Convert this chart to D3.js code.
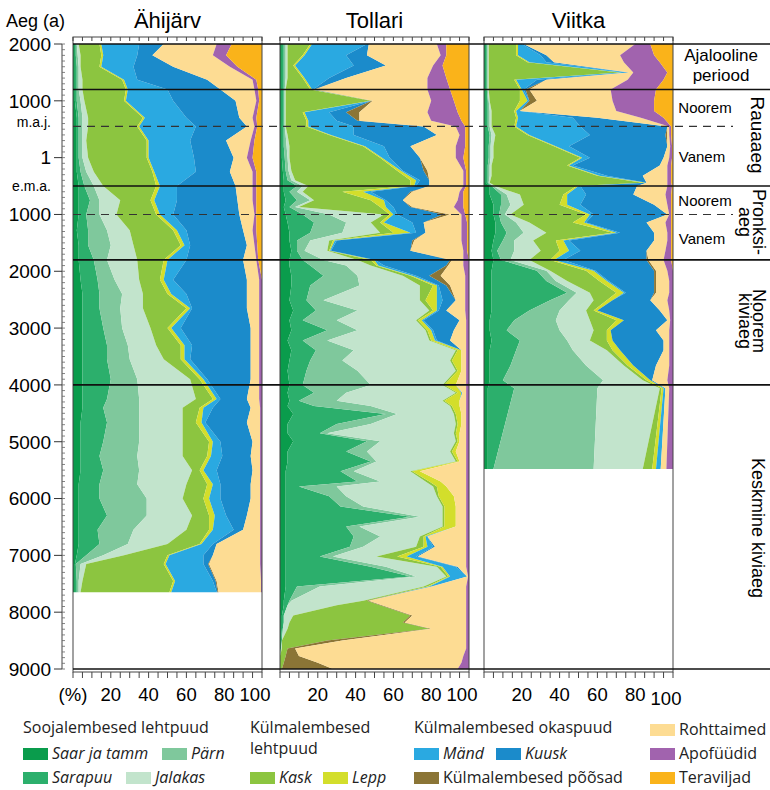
<!DOCTYPE html>
<html>
<head>
<meta charset="utf-8">
<script src="https://cdn.jsdelivr.net/npm/d3@7"></script>
<style>
  body { margin: 0; background: #fff; }
  svg { display: block; }
</style>
</head>
<body>
<svg width="770" height="790"></svg>
<script>
// taxa in stacking order (left to right)
const taxa = ["Saar ja tamm", "Sarapuu", "Pärn", "Jalakas", "Kask", "Lepp",
              "Mänd", "Kuusk", "Külmalembesed põõsad", "Rohttaimed", "Apofüüdid", "Teraviljad"];
const taxaColors = ["#0a9c4c", "#2caf6c", "#7fc89c", "#c2e4cc", "#8cc540", "#d3de2b",
                    "#2aa9e1", "#1b8bcb", "#8b7536", "#fddc93", "#a163ae", "#fab31a"];

const siteNames = ["Ähijärv", "Tollari", "Viitka"];

// rows: [year (AD +, BC -), 12 taxa in %]
const ahijarv = [
  [2000, 1, .5, .5, 1, 11, 1, 20, 13, 0, 28, 8, 16],
  [1800, 1, .5, 1, 1.5, 11, 1, 18, 8, 0, 32, 7, 19],
  [1600, 1, 1, 1, 1, 10, 1, 17, 21, 0, 30, 4, 13],
  [1370, 1, 1, 1, 2, 21, 1, 7, 37, 0, 24, 2, 3],
  [1200, 1, 1, 1, 2, 23, 1, 21, 28, 0, 18, 2, 2],
  [1000, 1, 1, 2, 2, 21, 1, 25, 33, 0, 11, 1.5, 1.5],
  [700, 2, 1, 2, 3, 29, 1, 22, 28, 0, 7, 2, 3],
  [550, 2, 1, 2, 3, 26, 1, 30, 27, 0, 4, 1.5, 2.5],
  [300, 2, 1, 2, 2, 32, 1, 22, 19, 0, 13, 2, 4],
  [0, 2, 1, 2, 3, 31, 1, 24, 21, 0, 7, 3, 5],
  [-250, 2, 2, 3, 4, 31, 1, 22, 18, 0, 12, 2, 3],
  [-500, 3, 3, 5, 5, 28, 2, 9, 31, 0, 9, 2, 3],
  [-750, 3, 6, 5, 11, 16, 2, 12, 32, 0, 8, 2, 3],
  [-1000, 3, 4, 7, 9, 21, 2, 7, 35, 0, 8, 1, 3],
  [-1280, 2, 6, 10, 12, 23, 2, 5, 30, 0, 5, 2, 3],
  [-1540, 3, 5, 12, 12, 25, 2, 3, 30, 0, 4, 1.5, 2.5],
  [-1800, 3, 8, 7, 16, 14, 2, 10, 30, 0, 7, 1, 2],
  [-2150, 4, 9, 9, 13, 11, 2, 5, 39, 0, 6.5, 1.5, 0],
  [-2400, 5, 9, 12, 11, 13, 2, 8, 32, 0, 6.5, 1.5, 0],
  [-2650, 5, 9, 11, 12, 23, 2, 1, 29, 0, 6.5, 1.5, 0],
  [-3000, 5, 11, 10, 15, 9, 2, 5, 37, 0, 4.5, 1.5, 0],
  [-3300, 5, 13, 11, 15, 13, 2, 4, 31, 0, 4.5, 1.5, 0],
  [-3550, 5, 13, 12, 18, 9, 2, 3, 32, 0, 4.5, 1.5, 0],
  [-3900, 5, 15, 14, 28, 5, 2, 2, 23, 0, 4.5, 1.5, 0],
  [-4250, 5, 13, 17, 30, 9, 2, 2, 14, 0, 6.5, 1.5, 0],
  [-4400, 5, 11, 19, 23, 9, 2, 5, 20, 0, 5, 1, 0],
  [-4660, 4, 14, 17, 23, 7, 3, 2, 22, 0, 7, 1, 0],
  [-5000, 4, 12, 19, 23, 14, 2, 4, 17, 0, 4, 1, 0],
  [-5250, 4, 10, 20, 24, 13, 2, 6, 15, 0, 5, 1, 0],
  [-5500, 4, 12, 19, 28, 4, 2, 7, 19, 0, 4, 1, 0],
  [-5750, 3, 11, 20, 26, 11, 3, 4, 16, 0, 5, 1, 0],
  [-6000, 3, 11, 25, 19, 11, 3, 6, 16, 0, 5, 1, 0],
  [-6300, 3, 15, 21, 24, 9, 3, 6, 11, 0, 7, 1, 0],
  [-6550, 3, 10, 19, 28, 12, 2, 11, 5, 0, 9, 1, 0],
  [-6800, 3, 11, 15, 21, 17, 1, 6, 2, 0, 23, 1, 0],
  [-7000, 2, 5, 9, 11, 23, 1, 18, 5, 0, 25, 1, 0],
  [-7150, 1, .5, 2.5, 3, 41, 1, 20, 2.5, .5, 27, 1, 0],
  [-7450, 1, 1, 1, 2, 48, 1, 20, 1.5, .5, 23.5, .5, 0],
  [-7650, 1, 1, 1, 1, 47, 1, 24, .5, .5, 22.5, .5, 0]
];

const tollari = [
  [2000, 1, 1, 1, 1, 12, 1, 29, 1, 0, 36, 5, 12],
  [1800, 1, 1, 1, 1, 8, 1, 22, 11, 0, 39, 3, 12],
  [1620, 1, 1, 1, 1, 3, 1, 31, 17, 0, 25, 5, 14],
  [1400, 1, 1, 1, 1, 8, 1, 13, 9, 0, 43, 10, 12],
  [1200, 1, 1, .5, .5, 13, 1, .5, .5, .5, 59.5, 12, 10],
  [1000, 1, 1, .5, .5, 45, .5, 0, 0, .5, 31, 12, 8],
  [800, 1, 1, .5, .5, 9, 1, 13, 9, 7, 36, 16, 6],
  [650, 1, 1, .5, .5, 11, 1, 15, 11, 1, 38, 16, 4],
  [550, 1, 1, .5, .5, 11, 1, 24, 37, 0, 17, 5, 2],
  [400, 1, 1, 1, 1, 22, 1, 12, 44, 0, 12, 3, 2],
  [200, 1, 1, 1.5, 1.5, 39, 1, 10, 14, 0, 24, 5, 2],
  [0, 1, 1.5, 1.5, 1, 48, 1, 4, 16, 0, 19, 4, 3],
  [-230, 1.5, 1.5, 1.5, 1.5, 56, 2, 1, 11, 2, 19, 1.5, 1.5],
  [-400, 2, 2, 2, 2, 61, 3, 2, 5, 0, 18, 1.5, 1.5],
  [-500, 2, 7, 3, 3, 54, 2, 1, 7, 0, 18, 1.5, 1.5],
  [-600, 2, 3, 4, 3, 21, 11, 4, 21, 1, 25, 2, 3],
  [-750, 3, 6, 7, 2, 30, 7, 1, 9, 0, 29, 3, 3],
  [-870, 2, 3, 3, 2, 43, 3, 4, 9, 1, 22, 5, 3],
  [-1000, 3, 9, 14, 29, 3, 2, 2, 24, 4, 6, 2, 2],
  [-1140, 4, 14, 17, 13, 5, 2, 15, 6, 0, 20, 3, 1],
  [-1320, 5, 11, 17, 20, 7, 9, 3, 5, 0, 19, 3, 1],
  [-1460, 5, 4, 7, 10, 2, 1, 1, 40, 1, 25, 3, 1],
  [-1640, 6, 3, 4, 12, 1, .5, .5, 42, 0, 28, 2, 1],
  [-1800, 5, 7, 11, 18, 7, 2, .5, 39.5, 1, 6, 3, 0],
  [-1900, 5, 11, 19, 13, 3, 1, 3, 33, 1, 8, 3, 0],
  [-2080, 6, 17, 18, 24, 4, 1, 2, 7, 6, 13, 2, 0],
  [-2250, 6, 10, 26, 32, 7, 2, 1, 4, 2, 8, 2, 0],
  [-2510, 5, 9, 9, 51, 3, 6, 3, 7, 0, 5, 2, 0],
  [-2690, 7, 12, 22, 38, 2, 2, 1, 4, 0, 10, 2, 0],
  [-2860, 5, 7, 18, 42, 1, 2, 1, 19, 0, 3.5, 1.5, 0],
  [-3040, 6, 19, 16, 36, 1, 2, 1, 11, 0, 6.5, 1.5, 0],
  [-3220, 4, 8, 13, 54, 1, 2, 1, 7, 0, 8.5, 1.5, 0],
  [-3390, 6, 13, 20, 54, 1, 2, 0, 0, 0, 2.5, 1.5, 0],
  [-3570, 5, 11, 17, 57, 1, 5, 0, 0, 0, 2.5, 1.5, 0],
  [-3750, 4, 10, 27, 52, 1, 2, 0, 0, 0, 2.5, 1.5, 0],
  [-4000, 5, 7, 36, 38, 1, 6, 0, 0, 0, 5.5, 1.5, 0],
  [-4140, 4, 14, 17, 58, 1, 2, .5, 0, 0, 2, 1.5, 0],
  [-4280, 5, 5, 20, 56, 1, 8, 0, 0, 0, 3.5, 1.5, 0],
  [-4370, 4, 14, 30, 42, 1, 4, 0, 0, 0, 3.5, 1.5, 0],
  [-4510, 7, 49, 6, 30, 1, 3, 0, 0, 0, 2.5, 1.5, 0],
  [-4690, 4, 26, 18, 45, 1, 2, 0, 0, 0, 2.5, 1.5, 0],
  [-4850, 4, 17, 4, 67, 1, 2, 0, 0, 0, 3.5, 1.5, 0],
  [-4990, 7, 39, 7, 40, 1, 1, 0, 0, 0, 3.5, 1.5, 0],
  [-5170, 4, 31, 11, 44, 1, 2, 0, 0, 0, 5.5, 1.5, 0],
  [-5350, 4, 44, 3, 42, 1, 1, 0, 0, 0, 3.5, 1.5, 0],
  [-5520, 3, 29, 7, 30, 1, 4, 0, 0, 0, 24.5, 1.5, 0],
  [-5700, 3, 38, 12, 24, 2, 6, 0, 0, 0, 13.5, 1.5, 0],
  [-5790, 3, 7, 20, 51, 2, 5, 0, 0, 0, 10.5, 1.5, 0],
  [-5960, 3, 23, 9, 48, 1, 8, 0, 0, 0, 6.5, 1.5, 0],
  [-6140, 3, 29, 12, 42, 1, 6, 0, 0, 0, 5.5, 1.5, 0],
  [-6320, 3, 66, 5, 12, 1, 6, 0, 0, 0, 5.5, 1.5, 0],
  [-6490, 3, 32, 7, 44, 1, 6, 0, 0, 0, 5.5, 1.5, 0],
  [-6670, 3, 36, 14, 21, 2, 1, 1, 0, 0, 20.5, 1.5, 0],
  [-6850, 3, 34, 7, 28, 4, 2, 3, 1, 0, 16.5, 1.5, 0],
  [-7020, 3, 18, 7, 23, 11, 5, 5, 1, 0, 25.5, 1.5, 0],
  [-7200, 3, 45, 8, 27, 2, 1, 7, 1, 0, 4.5, 1.5, 0],
  [-7370, 3, 66, 3, 16, 1, 1, 9, 0, 0, .5, .5, 0],
  [-7550, 3, 6, 12, 55, 2, 1, 1, .5, 0, 18, 1.5, 0],
  [-7800, 2, 3, 1, 38, 2, 0, 0, 0, 1, 51.5, 1.5, 0],
  [-7880, 2, 2, 0, 26, 23, 0, 0, 0, 1, 44.5, 1.5, 0],
  [-8060, 1, 1, 0, 5, 62, 0, 0, 0, 1, 28.5, 1.5, 0],
  [-8180, 1, 1, 0, 3, 60, 0, 0, 0, 1, 32.5, 1.5, 0],
  [-8290, 1, .5, 0, 2.5, 75, 0, 0, 0, 1, 18.5, 1.5, 0],
  [-8500, .5, .5, 0, 0, 24, 0, 0, 0, 8, 65.5, 1.5, 0],
  [-8640, .5, 0, 0, .5, 3, 0, 0, 0, 4, 90.5, 1.5, 0],
  [-8770, 0, 0, 0, 0, 3, 0, 0, 0, 7, 87, 3, 0],
  [-8890, 0, 0, 0, 0, 2, 0, 0, 0, 18, 76, 4, 0],
  [-9000, 0, 0, 0, 0, 1, 0, 0, 0, 27, 66, 6, 0]
];

const viitka = [
  [2000, 1, .5, .5, .5, 14.5, 1, 2, 1, 0, 59, 8, 12],
  [1800, 1, .5, .5, .5, 14.5, 1, 12, 3, 0, 39, 18, 10],
  [1680, 1, .5, .5, .5, 20.5, 1, 9, 4, 0, 37, 19, 7],
  [1500, 1, .5, .5, .5, 69.5, 1, 3, 1, 0, 2, 18, 3],
  [1370, 1, .5, .5, .5, 13.5, 1, 11, 5, 0, 43, 19, 5],
  [1200, 1, .5, .5, .5, 16.5, 1, 1, 1, 2, 43, 24, 9],
  [1000, 1, 1, .5, .5, 16, 4, 1, 0, 4, 40, 22, 10],
  [820, 1, 1, 1, 1, 12, 1, 2, 0, 0, 51, 20, 10],
  [700, 1, 1, 1, 1, 13, 1, 29, 13, 0, 23, 12, 5],
  [550, 1, 1, 1, 1, 12, 1, 34, 46, 0, 1, 1, 1],
  [400, 1, 2, 1, 2, 17, 1, 32, 40, 1, 1, 1, 1],
  [200, 1, 1.5, 1, 1.5, 32, 1, 7, 52, 0, 1.5, 1, .5],
  [0, 1, 1.5, 1, 1.5, 46, 1, 4, 39, 0, 3, 1.5, .5],
  [-140, 1, 1, 1, 1, 40, 1, 2, 46, 0, 4, 2, 1],
  [-320, 1, 1, 1, 1, 56, 1, 4, 19, 0, 13, 2, 1],
  [-440, 1, 1, .5, .5, 81, 2, 0, 0, 0, 11, 2, 1],
  [-500, 3, 1, 1, 1, 43, 1, 1, 30, 0, 16, 2.5, .5],
  [-650, 3, 6, 3, 7, 23, 2, 10, 25, 0, 17, 3, 1],
  [-830, 5, 4, 5, 7, 19, 4, 7, 39, 0, 7, 2, 1],
  [-1000, 5, 3, 3, 3, 40, 2, 2, 39, 0, 1, 1, 1],
  [-1140, 6, 3, 8, 7, 23, 6, 1, 32, 0, 10, 3, 1],
  [-1320, 6, 6, 9, 12, 35, 2, 2, 18, 0, 7, 2, 1],
  [-1460, 5, 5, 6, 10, 12, 4, 3, 45, 0, 7, 2, 1],
  [-1640, 4, 3, 9, 14, 10, 5, 6, 35, 0, 10, 3, 1],
  [-1800, 5, 4, 5, 10, 11, 2, 5, 44, 1, 8, 4, 1],
  [-1990, 4, 24, 5, 2, 19, 4, 1, 31, 1, 6, 3, 0],
  [-2170, 4, 29, 5, 6, 17, 4, 1, 24, 1, 7, 2, 0],
  [-2380, 4, 40, 5, 7, 14, 4, 1, 15, 1, 7, 2, 0],
  [-2510, 4, 31, 10, 13, 7, 3, 0, 20, 0, 9, 3, 0],
  [-2690, 4, 20, 16, 14, 4, 2, 0, 33, 0, 5, 2, 0],
  [-2860, 3, 13, 22, 18, 14, 4, 0, 23, 0, 1.5, 1.5, 0],
  [-3040, 3, 9, 28, 18, 7, 2, 0, 24, 0, 7, 2, 0],
  [-3220, 4, 15, 25, 12, 9, 3, 0, 27, 0, 3, 2, 0],
  [-3390, 3, 14, 30, 18, 3, 4, 0, 23, 0, 3, 2, 0],
  [-3660, 3, 11, 40, 20, 2, 3, 0, 12, 0, 7, 2, 0],
  [-3920, 3, 7, 53, 21, 2, 2, 0, 1, 0, 8, 3, 0],
  [-4060, 2, 14, 44, 33, 1, 1, 1, 0, 0, 2, 2, 0],
  [-5480, 2, 3, 53, 26, 5, 2, 2.5, 0, 0, 3, 3.5, 0]
];

// age axis ticks
const ageTicks = [2000, 1000, 0, -1000, -2000, -3000, -4000, -5000, -6000, -7000, -8000, -9000];
const ageTickLabels = ["2000", "1000", "1", "1000", "2000", "3000", "4000", "5000", "6000", "7000", "8000", "9000"];
const eraLabels = [{ text: "m.a.j.", year: 620 }, { text: "e.m.a.", year: -500 }];

// period boundaries
const periodLines = [2000, 1200, -500, -1800, -4000, -9000];
const subPeriodLines = [550, -1000];

const pctTicks = [20, 40, 60, 80, 100];

const svg = d3.select("svg");
const font = "'Liberation Sans', Arial, sans-serif";
const legendFont = "'Open Sans', 'Noto Sans', sans-serif";

const y = d3.scaleLinear().domain([2000, -9000]).range([44, 669]);
const panelLeft = [73, 280, 484];
const panelW = 189;
const frameTop = 37, frameBottom = 672;

const stack = d3.stack()
  .keys(d3.range(taxa.length))
  .value((d, k) => d[k + 1]);

[ahijarv, tollari, viitka].forEach((rows, i) => {
  const x = d3.scaleLinear().domain([0, 100]).range([panelLeft[i], panelLeft[i] + panelW]);
  const g = svg.append("g");

  const area = d3.area()
    .y(d => y(d.data[0]))
    .x0(d => x(d[0]))
    .x1(d => x(d[1]));

  g.selectAll("path.layer")
    .data(stack(rows))
    .enter()
    .append("path")
    .attr("class", "layer")
    .attr("d", area)
    .attr("fill", (d, k) => taxaColors[k]);

  // frame
  g.append("rect")
    .attr("x", x(0)).attr("y", frameTop)
    .attr("width", panelW).attr("height", frameBottom - frameTop)
    .attr("fill", "none").attr("stroke", "#444").attr("stroke-width", 1);

  // ticks every 5 % on top and bottom
  const minor = d3.range(0, 101, 5);
  g.selectAll("line.ttop").data(minor).enter().append("line")
    .attr("x1", d => x(d)).attr("x2", d => x(d))
    .attr("y1", frameTop).attr("y2", frameTop + 4)
    .attr("stroke", "#444").attr("stroke-width", 1);
  g.selectAll("line.tbot").data(minor).enter().append("line")
    .attr("x1", d => x(d)).attr("x2", d => x(d))
    .attr("y1", frameBottom).attr("y2", frameBottom + 6)
    .attr("stroke", "#444").attr("stroke-width", 1);

  // bottom labels
  g.selectAll("text.pct").data(pctTicks).enter().append("text")
    .attr("x", d => x(d) - (d === 100 ? 7 : 0))
    .attr("y", d => (d === 100 && i === 2) ? 705 : 701)
    .attr("text-anchor", "middle")
    .attr("font-family", font).attr("font-size", 18.5)
    .text(d => d);
  if (i === 0) {
    g.append("text").attr("x", x(0)).attr("y", 701)
      .attr("text-anchor", "middle")
      .attr("font-family", font).attr("font-size", 18.5)
      .text("(%)");
  }

  // title
  g.append("text")
    .attr("x", x(50)).attr("y", 28)
    .attr("text-anchor", "middle")
    .attr("font-family", font).attr("font-size", 22)
    .text(siteNames[i]);
});

// period lines
svg.selectAll("line.period").data(periodLines).enter().append("line")
  .attr("x1", 73).attr("x2", 770)
  .attr("y1", d => y(d)).attr("y2", d => y(d))
  .attr("stroke", "#111").attr("stroke-width", 1.6);
svg.selectAll("line.sub").data(subPeriodLines).enter().append("line")
  .attr("x1", 73).attr("x2", 733)
  .attr("y1", d => y(d)).attr("y2", d => y(d))
  .attr("stroke", "#333").attr("stroke-width", 1.1)
  .attr("stroke-dasharray", "8,6");

// age axis
const axisX = 62;
svg.append("line")
  .attr("x1", axisX).attr("x2", axisX)
  .attr("y1", y(2000)).attr("y2", y(-9000))
  .attr("stroke", "#444");
svg.selectAll("line.minor").data(d3.range(2000, -9001, -100)).enter().append("line")
  .attr("x1", axisX).attr("x2", axisX + 3)
  .attr("y1", d => y(d)).attr("y2", d => y(d))
  .attr("stroke", "#666").attr("stroke-width", 0.8);
svg.selectAll("line.major").data(ageTicks).enter().append("line")
  .attr("x1", axisX - 8).attr("x2", axisX)
  .attr("y1", d => y(d)).attr("y2", d => y(d))
  .attr("stroke", "#333");
svg.selectAll("text.age").data(ageTicks).enter().append("text")
  .attr("x", 51)
  .attr("y", d => y(d))
  .attr("dy", "0.36em")
  .attr("text-anchor", "end")
  .attr("font-family", font).attr("font-size", 19)
  .text((d, i) => ageTickLabels[i]);
svg.selectAll("text.era").data(eraLabels).enter().append("text")
  .attr("x", 51)
  .attr("y", d => y(d.year))
  .attr("dy", "0.36em")
  .attr("text-anchor", "end")
  .attr("font-family", font).attr("font-size", 14)
  .text(d => d.text);
svg.append("text")
  .attr("x", 6).attr("y", 27)
  .attr("font-family", font).attr("font-size", 18)
  .text("Aeg (a)");

// period names on the right
const plain = [
  { t: "Ajalooline", x: 721, y: 61, s: 17 },
  { t: "periood", x: 721, y: 81, s: 17 },
  { t: "Noorem", x: 705, y: 113, s: 15 },
  { t: "Vanem", x: 702, y: 162, s: 15 },
  { t: "Noorem", x: 705, y: 206, s: 15 },
  { t: "Vanem", x: 702, y: 244, s: 15 }
];
svg.selectAll("text.plain").data(plain).enter().append("text")
  .attr("x", d => d.x).attr("y", d => d.y)
  .attr("text-anchor", "middle")
  .attr("font-family", font)
  .attr("font-size", d => d.s)
  .text(d => d.t);

const rotated = [
  { t: "Rauaaeg", x: 751, y: 135, s: 19 },
  { t: "Pronksi-", x: 753, y: 222, s: 18 },
  { t: "aeg", x: 739, y: 222, s: 18 },
  { t: "Noorem", x: 753, y: 321, s: 18 },
  { t: "kiviaeg", x: 739, y: 321, s: 18 },
  { t: "Keskmine kiviaeg", x: 752, y: 528, s: 18 }
];
svg.selectAll("text.rot").data(rotated).enter().append("text")
  .attr("transform", d => `translate(${d.x},${d.y}) rotate(90)`)
  .attr("text-anchor", "middle")
  .attr("font-family", font).attr("font-size", d => d.s)
  .text(d => d.t);

// legend
const legendHeads = [
  { t: "Soojalembesed lehtpuud", x: 23, y: 733 },
  { t: "Külmalembesed", x: 250, y: 733 },
  { t: "lehtpuud", x: 250, y: 754 },
  { t: "Külmalembesed okaspuud", x: 414, y: 733 }
];
svg.selectAll("text.lhead").data(legendHeads).enter().append("text")
  .attr("x", d => d.x).attr("y", d => d.y)
  .attr("font-family", legendFont).attr("font-size", 16)
  .attr("fill", "#222")
  .text(d => d.t);

// legend entries: [taxon index, x, y, italic]
const legendItems = [
  [0, 23, 748, true], [2, 162, 748, true],
  [1, 23, 772, true], [3, 126, 772, true],
  [4, 250, 772, true], [5, 323, 772, true],
  [6, 414, 748, true], [7, 496, 748, true],
  [8, 414, 772, false],
  [9, 650, 724, false], [10, 650, 748, false], [11, 650, 772, false]
];
const li = svg.selectAll("g.li").data(legendItems).enter().append("g");
li.append("rect")
  .attr("x", d => d[1]).attr("y", d => d[2])
  .attr("width", 25).attr("height", 12)
  .attr("fill", d => taxaColors[d[0]]);
li.append("text")
  .attr("x", d => d[1] + 29).attr("y", d => d[2] + 11)
  .attr("font-family", legendFont).attr("font-size", 16)
  .attr("font-style", d => d[3] ? "italic" : "normal")
  .attr("fill", "#222")
  .text(d => taxa[d[0]]);
</script>
</body>
</html>
